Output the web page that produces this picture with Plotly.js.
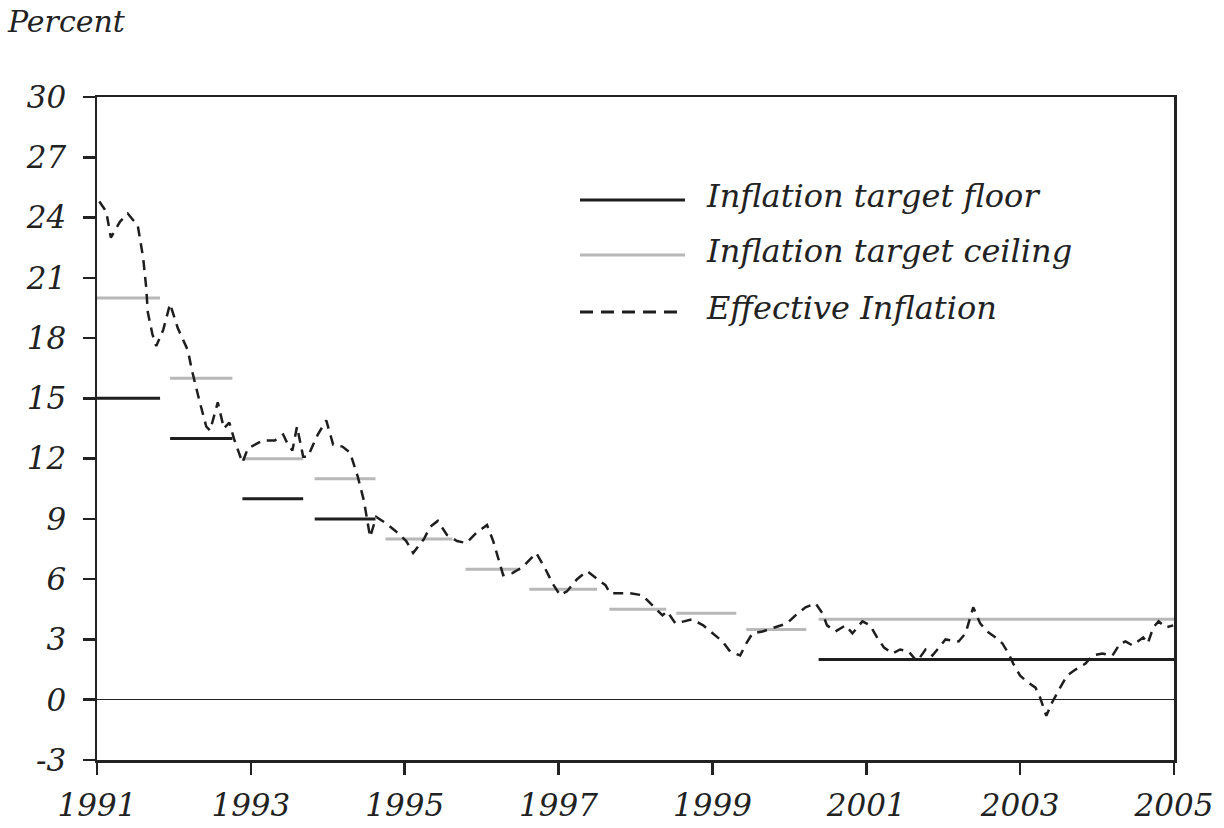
<!DOCTYPE html>
<html>
<head>
<meta charset="utf-8">
<script src="https://cdn.plot.ly/plotly-3.0.1.min.js"></script>
<style>html,body{margin:0;padding:0;background:#fff;}#chart{width:1224px;height:828px;}</style>
</head>
<body>
<div id="chart"></div>
<script>
// Inflation target bands (start year, end year, value)
const floorStart = [1991.00, 1991.95, 1992.89, 1993.83, 2000.38];
const floorEnd   = [1991.82, 1992.76, 1993.68, 1994.62, 2005.00];
const floorValue = [15, 13, 10, 9, 2];

const ceilStart = [1991.00, 1991.95, 1992.89, 1993.83, 1994.75, 1995.79, 1996.62, 1997.66, 1998.53, 1999.44, 2000.38];
const ceilEnd   = [1991.82, 1992.76, 1993.68, 1994.62, 1995.62, 1996.50, 1997.50, 1998.40, 1999.31, 2000.22, 2005.00];
const ceilValue = [20, 16, 12, 11, 8, 6.5, 5.5, 4.5, 4.3, 3.5, 4];

// Effective inflation
const inflYear = [1991.03,1991.12,1991.18,1991.30,1991.40,1991.46,1991.53,1991.60,1991.64,1991.66,
  1991.72,1991.77,1991.86,1991.95,1992.05,1992.18,1992.24,1992.33,1992.42,1992.47,
  1992.57,1992.65,1992.72,1992.78,1992.89,1992.96,1993.15,1993.31,1993.42,1993.47,
  1993.54,1993.60,1993.68,1993.74,1993.87,1993.98,1994.07,1994.19,1994.29,1994.39,
  1994.47,1994.55,1994.63,1994.75,1994.88,1995.02,1995.11,1995.25,1995.33,1995.43,
  1995.55,1995.68,1995.80,1995.93,1996.07,1996.15,1996.23,1996.28,1996.40,1996.53,
  1996.71,1996.83,1996.92,1997.02,1997.11,1997.24,1997.37,1997.50,1997.61,1997.67,
  1997.93,1998.09,1998.19,1998.35,1998.41,1998.52,1998.63,1998.74,1998.88,1999.00,
  1999.13,1999.23,1999.36,1999.44,1999.52,1999.65,1999.82,1999.97,2000.08,2000.21,
  2000.34,2000.43,2000.49,2000.60,2000.73,2000.82,2000.95,2001.05,2001.14,2001.23,
  2001.34,2001.44,2001.55,2001.66,2001.77,2001.86,2002.03,2002.20,2002.29,2002.39,
  2002.48,2002.57,2002.68,2002.77,2002.85,2002.91,2003.00,2003.09,2003.20,2003.26,
  2003.34,2003.42,2003.52,2003.61,2003.72,2003.85,2003.94,2004.07,2004.20,2004.30,
  2004.37,2004.46,2004.60,2004.66,2004.73,2004.80,2004.89,2004.99];
const inflValue = [24.8,24.3,23.0,23.8,24.2,23.9,23.6,22.0,20.5,19.3,
  18.2,17.6,18.4,19.7,18.5,17.4,16.3,14.9,13.6,13.4,
  14.8,13.5,13.8,13.0,11.8,12.5,12.9,12.9,13.2,12.8,
  12.4,13.6,12.1,12.1,13.2,13.9,12.7,12.6,12.3,11.1,
  9.9,8.1,9.1,8.8,8.4,7.9,7.3,8.0,8.6,8.9,
  8.2,7.9,7.8,8.3,8.7,7.9,6.8,6.2,6.3,6.6,
  7.3,6.5,5.8,5.2,5.4,6.0,6.4,6.0,5.7,5.3,
  5.3,5.2,4.8,4.2,4.4,3.8,3.9,4.0,3.7,3.3,
  2.9,2.4,2.2,2.8,3.3,3.4,3.6,3.8,4.2,4.6,
  4.8,4.3,3.7,3.4,3.7,3.3,3.9,3.7,3.1,2.6,
  2.3,2.5,2.4,1.9,2.5,2.2,3.0,2.9,3.3,4.6,
  3.8,3.4,3.1,2.8,2.3,1.8,1.2,0.9,0.6,0.1,
  -0.8,-0.1,0.6,1.2,1.5,1.8,2.2,2.3,2.2,2.8,
  2.9,2.7,3.1,2.8,3.6,3.9,3.6,3.7];

const xTickVals = [1991, 1993, 1995, 1997, 1999, 2001, 2003, 2005];
const yTickVals = [-3, 0, 3, 6, 9, 12, 15, 18, 21, 24, 27, 30];
const legendNames = ['Inflation target floor', 'Inflation target ceiling', 'Effective Inflation'];

function segs(s, e, v) {
  const x = [], y = [];
  for (let i = 0; i < s.length; i++) {
    x.push(s[i], e[i], null);
    y.push(v[i], v[i], null);
  }
  return {x, y};
}
const fl = segs(floorStart, floorEnd, floorValue);
const cl = segs(ceilStart, ceilEnd, ceilValue);

const FONT = 'DejaVu Serif, Liberation Serif, serif';
const traces = [
  {x: cl.x, y: cl.y, mode: 'lines', name: legendNames[1], line: {color: '#b8b8b8', width: 3}, connectgaps: false, hoverinfo: 'skip'},
  {x: fl.x, y: fl.y, mode: 'lines', name: legendNames[0], line: {color: '#1e1e1e', width: 3}, connectgaps: false, hoverinfo: 'skip'},
  {x: inflYear, y: inflValue, mode: 'lines', name: legendNames[2], line: {color: '#1e1e1e', width: 2.5, dash: '10px,7px'}}
];

const px = v => (v - 97) / 1077;
const py = v => (760 - v) / 663;
const legY = [200, 255, 312];
const legStyles = [
  {color: '#1e1e1e', width: 3, dash: 'solid'},
  {color: '#b8b8b8', width: 3, dash: 'solid'},
  {color: '#1e1e1e', width: 3, dash: '13px,8px'}
];
const shapes = legY.map((yy, i) => ({
  type: 'line', xref: 'paper', yref: 'paper',
  x0: px(580), x1: px(685), y0: py(yy), y1: py(yy), line: legStyles[i]
}));
const annotations = legY.map((yy, i) => ({
  xref: 'paper', yref: 'paper', x: px(704), y: py(yy - 4), xanchor: 'left', yanchor: 'middle',
  text: '<i>' + legendNames[i] + '</i>', showarrow: false, font: {family: FONT, size: 32, color: '#222'}
}));
annotations.push({
  xref: 'paper', yref: 'paper', x: px(5), y: py(22), xanchor: 'left', yanchor: 'middle',
  text: '<i>Percent</i>', showarrow: false, font: {family: FONT, size: 30, color: '#222'}
});

const layout = {
  width: 1224, height: 828,
  margin: {l: 97, r: 50, t: 97, b: 68},
  paper_bgcolor: '#fff', plot_bgcolor: '#fff',
  showlegend: false,
  font: {family: FONT, color: '#222'},
  xaxis: {
    range: [1991, 2005], tickvals: xTickVals, ticktext: xTickVals.map(v => '<i>' + v + '</i>'),
    ticks: 'outside', ticklen: 12, tickwidth: 2.5, tickcolor: '#222', ticklabelstandoff: 4,
    showline: true, linecolor: '#222', linewidth: 2.5, mirror: true,
    showgrid: false, zeroline: false, tickfont: {family: FONT, size: 31, color: '#222'}
  },
  yaxis: {
    range: [-3, 30], tickvals: yTickVals, ticktext: yTickVals.map(v => '<i>' + v + '</i>'),
    ticks: 'outside', ticklen: 12, tickwidth: 2.5, tickcolor: '#222', ticklabelstandoff: 10,
    showline: true, linecolor: '#222', linewidth: 2.5, mirror: true,
    showgrid: false, zeroline: true, zerolinecolor: '#222', zerolinewidth: 1.2,
    tickfont: {family: FONT, size: 31, color: '#222'}
  },
  shapes, annotations
};

Plotly.newPlot('chart', traces, layout, {displayModeBar: false, staticPlot: true});
</script>
</body>
</html>
